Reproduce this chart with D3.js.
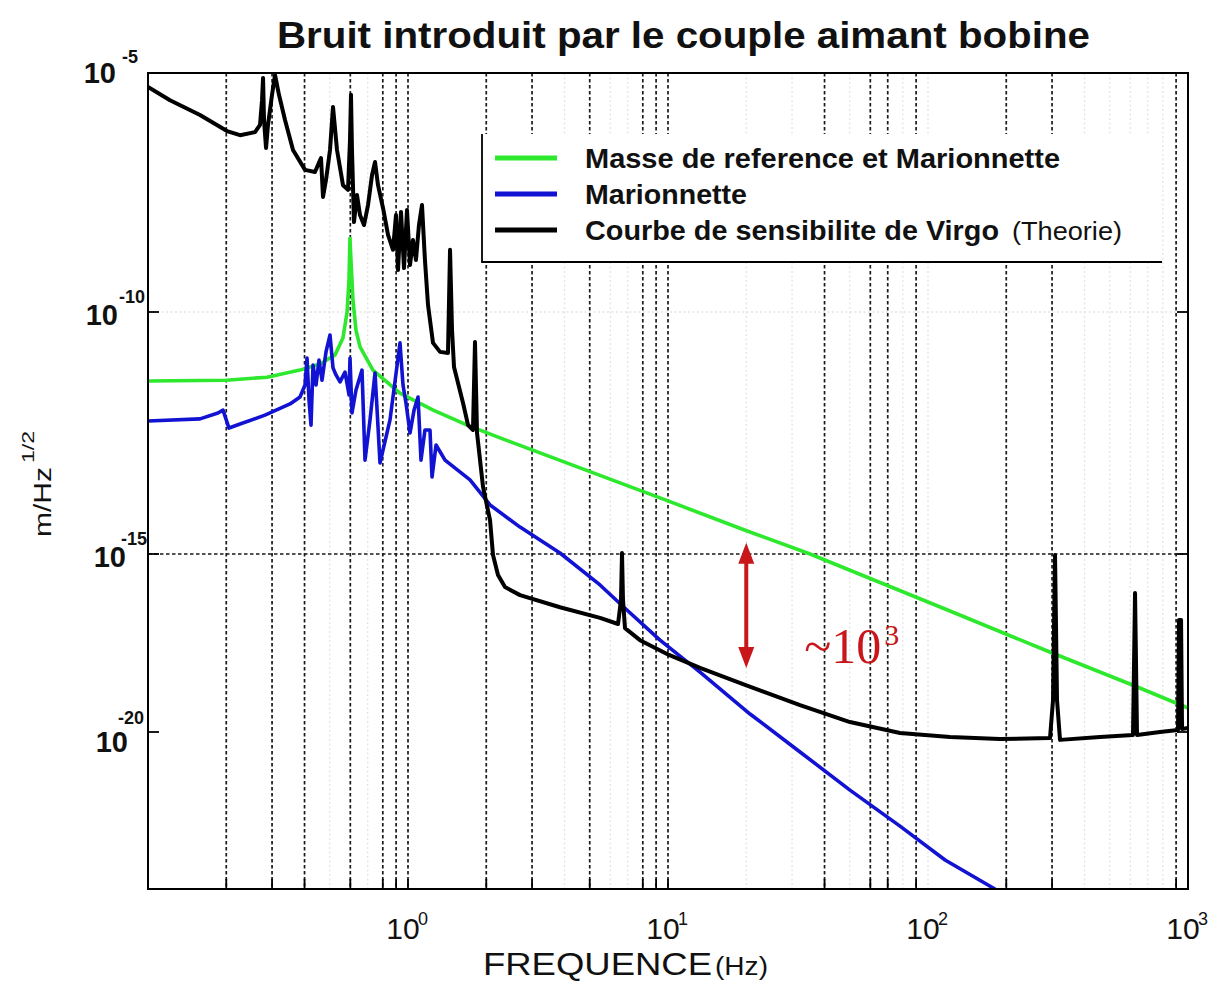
<!DOCTYPE html>
<html>
<head>
<meta charset="utf-8">
<script src="https://cdn.jsdelivr.net/npm/d3@7"></script>
<style>
  body { margin: 0; background: #fff; }
  svg { display: block; }
  .sans { font-family: "Liberation Sans", Arial, sans-serif; }
  .serif { font-family: "Liberation Serif", "Times New Roman", serif; }
</style>
</head>
<body>
<svg id="chart" width="1211" height="983"></svg>
<script>
// ---- data: [frequency (Hz), amplitude (m/Hz^1/2)] ----
const massRefMarionnette = [
  [0.1, 3.75e-12], [0.2, 3.9e-12], [0.287, 4.5e-12], [0.384, 6.3e-12], [0.459, 8.4e-12],
  [0.524, 1.3e-11], [0.562, 2.9e-11], [0.583, 1e-10], [0.593, 4.7e-10], [0.598, 3.5e-9],
  [0.604, 1.1e-9], [0.614, 1.8e-10], [0.631, 4.2e-11], [0.654, 1.9e-11], [0.733, 6.3e-12],
  [0.931, 2.1e-12], [1.25, 9.4e-13], [1.69, 4.6e-13], [2.26, 2.5e-13], [10, 1.25e-14],
  [19.8, 3.1e-15], [35.2, 1e-15], [65.4, 1.58e-16], [121.5, 2.5e-17], [294, 1.77e-18],
  [625, 1.96e-19], [1000, 4.7e-20]
];

const marionnette = [
  [0.1, 5.6e-13], [0.1585, 6.2e-13], [0.1858, 8.2e-13], [0.1943, 9.4e-13], [0.2049, 4.0e-13],
  [0.2259, 4.85e-13], [0.2818, 7.4e-13], [0.3518, 1.26e-12], [0.3843, 1.75e-12], [0.4017, 3.1e-12],
  [0.4089, 1.12e-11], [0.4162, 1.52e-12], [0.4236, 4.6e-13], [0.4312, 8.0e-12], [0.4428, 3.1e-12],
  [0.4547, 1.02e-11], [0.467, 3.9e-12], [0.4837, 1.5e-11], [0.5012, 3.35e-11], [0.5147, 7.0e-12],
  [0.5286, 5.0e-12], [0.5477, 3.6e-12], [0.5725, 5.75e-12], [0.5932, 1.93e-12], [0.5983, 1.12e-11],
  [0.6089, 8.2e-13], [0.631, 2.45e-12], [0.6654, 6.3e-12], [0.6833, 8.7e-14], [0.7144, 5.9e-13],
  [0.7467, 5.5e-12], [0.7804, 7.6e-14], [0.8527, 5.9e-13], [0.9316, 2.3e-11], [0.9567, 3.1e-12],
  [0.9824, 1.32e-12], [1.018, 3.16e-13], [1.055, 9.4e-13], [1.093, 1.75e-12], [1.122, 8.7e-14],
  [1.162, 3.65e-13], [1.215, 3.65e-13], [1.237, 3.9e-14], [1.282, 1.79e-13], [1.388, 8.7e-14],
  [1.732, 3.4e-14], [2.068, 1.03e-14], [2.697, 3.6e-15], [3.842, 1.05e-15], [5.476, 1.35e-16],
  [6.833, 3.0e-17], [9.317, 3.8e-18], [13.28, 4.8e-19], [20.68, 3.2e-20], [32.2, 3.1e-21],
  [50.1, 3.3e-22], [78.04, 4.0e-23], [116.3, 5.5e-24], [180.9, 1e-24]
];

const virgoSensitivity = [
  [0.1, 5.1e-6], [0.1215, 2.7e-6], [0.1585, 1.32e-6], [0.2013, 6.1e-7], [0.2259, 5.0e-7],
  [0.258, 5.8e-7], [0.2697, 8.2e-7], [0.2745, 2.7e-6], [0.277, 7.9e-6], [0.2794, 1.04e-6],
  [0.2844, 2.7e-7], [0.2894, 8.2e-7], [0.2999, 3.5e-6], [0.308, 9.1e-6], [0.319, 3.5e-6],
  [0.3365, 1.04e-6], [0.3612, 2.45e-7], [0.4017, 9.4e-8], [0.4388, 8.5e-8], [0.4587, 1.5e-7],
  [0.4628, 1.67e-7], [0.4711, 2.55e-8], [0.4837, 5.8e-8], [0.5012, 2.45e-7], [0.5147, 1.95e-6],
  [0.5333, 2.45e-7], [0.5623, 4.5e-8], [0.5878, 3.6e-8], [0.5983, 4.0e-7], [0.6036, 3.5e-6],
  [0.6089, 2.45e-7], [0.6198, 7.6e-9], [0.6365, 2.8e-8], [0.6537, 1.07e-8], [0.6773, 6.6e-9],
  [0.7018, 1.73e-8], [0.7271, 7.3e-8], [0.7467, 1.37e-7], [0.7668, 4.5e-8], [0.8015, 1.5e-8],
  [0.8379, 4.1e-9], [0.8757, 2.0e-9], [0.8993, 1.07e-8], [0.9154, 7.6e-10], [0.9399, 1.24e-8],
  [0.9652, 8.3e-10], [0.9912, 1.36e-8], [1.018, 9.6e-10], [1.045, 3.2e-9], [1.073, 1.22e-9],
  [1.102, 6.6e-9], [1.132, 1.73e-8], [1.162, 1.22e-9], [1.194, 1.4e-10], [1.248, 2.3e-11],
  [1.328, 1.5e-11], [1.425, 1.42e-11], [1.451, 2.0e-9], [1.477, 4.2e-11], [1.503, 7.3e-12],
  [1.628, 1.32e-12], [1.702, 4.6e-13], [1.778, 3.65e-13], [1.81, 2.4e-11], [1.843, 3.16e-13],
  [1.944, 2.4e-14], [2.068, 5.0e-15], [2.123, 9.4e-16], [2.219, 2.57e-16], [2.361, 1.18e-16],
  [2.697, 7.0e-17], [3.842, 3.2e-17], [5.476, 1.6e-17], [6.423, 1.08e-17], [6.595, 5.1e-17],
  [6.654, 1.05e-15], [6.713, 5.1e-17], [6.833, 8.3e-18], [7.804, 3.8e-18], [10.09, 1.46e-18],
  [13.28, 6.3e-19], [19.78, 2.1e-19], [32.2, 5.7e-20], [50.1, 1.9e-20], [78.04, 9.4e-21],
  [121.5, 7.5e-21], [189.2, 6.6e-21], [294.6, 7.0e-21], [302.6, 7.9e-20], [308, 9.4e-16],
  [313.5, 7.9e-20], [321.9, 6.3e-21], [458.6, 7.5e-21], [614.4, 8.4e-21], [625.6, 8.0e-17],
  [636.7, 8.4e-21], [780.4, 1.0e-20], [915.4, 1.14e-20], [923.6, 1.4e-17], [940.3, 1.4e-17],
  [948.6, 1.21e-20], [1000, 1.29e-20]
];

const seriesNames = [
  "Masse de reference et Marionnette",
  "Marionnette",
  "Courbe de sensibilite de Virgo"
];
const seriesColors = ["#2ee82e", "#1212d2", "#000000"];

const xTickValues = [1, 10, 100, 1000];
const xTickExponents = ["0", "1", "2", "3"];
const yTickValues = [1e-5, 1e-10, 1e-15, 1e-20];
const yTickExponents = ["-5", "-10", "-15", "-20"];

// dotted grid: darker lines and faint lines
const gridStrongX = [0.2, 0.3, 0.4, 0.6, 0.8, 0.9, 1, 2, 3, 5, 8, 9, 10, 40, 60, 70, 90, 200, 300, 900];
const gridFaintX = [0.5, 0.7, 4, 6, 7, 20, 30, 50, 80, 100, 400, 500, 600, 700, 800];
const gridStrongY = [1e-15];
const gridFaintY = [1e-10];

// annotation: distance between the reference-mass curve and the Virgo curve
const gapFreq = 20;
const gapTop = 1.7e-15;
const gapBottom = 6.3e-19;

// ---- layout ----
const svg = d3.select("#chart");
const frame = { left: 148, right: 1188, top: 73, bottom: 889 };

const x = d3.scaleLog().domain([0.1, 1000]).range([frame.left, frame.right]);
const y = d3.scaleLog()
  .domain([1e-24, 1e-20, 1e-15, 1e-10, 1e-5])
  .range([889, 732, 554, 312, 73]);

svg.append("defs").append("clipPath").attr("id", "plot-clip")
  .append("rect")
  .attr("x", frame.left).attr("y", frame.top)
  .attr("width", frame.right - frame.left).attr("height", frame.bottom - frame.top);

// ---- grid ----
const grid = svg.append("g");
grid.selectAll(".fx").data(gridFaintX).join("line")
  .attr("x1", d => x(d)).attr("x2", d => x(d))
  .attr("y1", frame.top).attr("y2", frame.bottom)
  .attr("stroke", "#e4e4e4").attr("stroke-width", 1.3).attr("stroke-dasharray", "2,2.5");
grid.selectAll(".fy").data(gridFaintY).join("line")
  .attr("x1", frame.left).attr("x2", frame.right)
  .attr("y1", d => y(d)).attr("y2", d => y(d))
  .attr("stroke", "#e4e4e4").attr("stroke-width", 1.3).attr("stroke-dasharray", "2,2.5");
grid.selectAll(".sx").data(gridStrongX).join("line")
  .attr("x1", d => x(d)).attr("x2", d => x(d))
  .attr("y1", frame.top).attr("y2", frame.bottom)
  .attr("stroke", "#1a1a1a").attr("stroke-width", 1.7).attr("stroke-dasharray", "3.5,2.5");
grid.selectAll(".sy").data(gridStrongY).join("line")
  .attr("x1", frame.left).attr("x2", frame.right)
  .attr("y1", d => y(d)).attr("y2", d => y(d))
  .attr("stroke", "#1a1a1a").attr("stroke-width", 1.7).attr("stroke-dasharray", "3.5,2.5");

// ---- ticks (inward) ----
const ticks = svg.append("g").attr("stroke", "#000").attr("stroke-width", 1.8);
ticks.selectAll(".tb").data(gridStrongX).join("line")
  .attr("x1", d => x(d)).attr("x2", d => x(d))
  .attr("y1", frame.bottom).attr("y2", frame.bottom - 10);
ticks.selectAll(".tl").data(yTickValues).join("line")
  .attr("x1", frame.left).attr("x2", frame.left + 11)
  .attr("y1", d => y(d)).attr("y2", d => y(d));
ticks.selectAll(".tr").data(yTickValues).join("line")
  .attr("x1", frame.right).attr("x2", frame.right - 11)
  .attr("y1", d => y(d)).attr("y2", d => y(d));

// ---- curves ----
const line = d3.line().x(d => x(d[0])).y(d => y(d[1]));
const curves = svg.append("g").attr("clip-path", "url(#plot-clip)")
  .attr("fill", "none").attr("stroke-linejoin", "round").attr("stroke-linecap", "round");
[massRefMarionnette, marionnette, virgoSensitivity].forEach((s, i) => {
  curves.append("path").datum(s)
    .attr("d", line)
    .attr("stroke", seriesColors[i])
    .attr("stroke-width", i === 2 ? 4 : 3.6);
});

// ---- frame ----
svg.append("rect")
  .attr("x", frame.left).attr("y", frame.top)
  .attr("width", frame.right - frame.left).attr("height", frame.bottom - frame.top)
  .attr("fill", "none").attr("stroke", "#000").attr("stroke-width", 2);

// ---- legend ----
const legend = svg.append("g").attr("class", "sans");
legend.append("rect").attr("x", 482).attr("y", 134).attr("width", 680).attr("height", 128).attr("fill", "#fff");
legend.append("path").attr("d", "M482,134V262H1162").attr("fill", "none")
  .attr("stroke", "#000").attr("stroke-width", 1.8);
const rows = legend.selectAll(".row").data(seriesNames).join("g")
  .attr("transform", (d, i) => `translate(0,${158 + i * 36})`);
rows.append("line").attr("x1", 495).attr("x2", 557).attr("y1", 0).attr("y2", 0)
  .attr("stroke", (d, i) => seriesColors[i]).attr("stroke-width", 5);
const legendWidths = [475, 162, 414];
rows.append("text").attr("x", 585).attr("y", 10)
  .attr("font-size", 28).attr("font-weight", "bold").attr("fill", "#111")
  .attr("textLength", (d, i) => legendWidths[i]).attr("lengthAdjust", "spacingAndGlyphs")
  .text(d => d);
legend.append("text").attr("x", 1012).attr("y", 240)
  .attr("font-size", 25).attr("fill", "#111")
  .attr("textLength", 110).attr("lengthAdjust", "spacingAndGlyphs")
  .text("(Theorie)");

// ---- axis labels ----
const xLab = svg.append("g").attr("class", "sans").attr("fill", "#111");
xTickValues.forEach((v, i) => {
  xLab.append("text").attr("x", x(v) - 5).attr("y", 939)
    .attr("text-anchor", "middle").attr("font-size", 30).text("10");
  xLab.append("text").attr("x", x(v) + 10).attr("y", 925)
    .attr("font-size", 18).text(xTickExponents[i]);
});

const yLabelLayout = [
  { base: 116, sup: 138, dyB: 10, dyS: -10 },
  { base: 118, sup: 145, dyB: 13, dyS: -9 },
  { base: 126, sup: 147, dyB: 13, dyS: -9 },
  { base: 128, sup: 144, dyB: 20, dyS: -8 }
];
const yLab = svg.append("g").attr("class", "sans").attr("fill", "#111").attr("font-weight", "bold");
yTickValues.forEach((v, i) => {
  const L = yLabelLayout[i];
  yLab.append("text").attr("x", L.base).attr("y", y(v) + L.dyB)
    .attr("text-anchor", "end").attr("font-size", 29).text("10");
  yLab.append("text").attr("x", L.sup).attr("y", y(v) + L.dyS)
    .attr("text-anchor", "end").attr("font-size", 18).text(yTickExponents[i]);
});

svg.append("text").attr("class", "sans").attr("x", 483).attr("y", 975)
  .attr("font-size", 32).attr("fill", "#111")
  .attr("textLength", 229).attr("lengthAdjust", "spacingAndGlyphs")
  .text("FREQUENCE");
svg.append("text").attr("class", "sans").attr("x", 715).attr("y", 975)
  .attr("font-size", 26).attr("fill", "#111")
  .attr("textLength", 53).attr("lengthAdjust", "spacingAndGlyphs")
  .text("(Hz)");

const yTitle = svg.append("g").attr("class", "sans")
  .attr("transform", "translate(51,537) rotate(-90)").attr("fill", "#111");
yTitle.append("text").attr("x", 0).attr("y", 0).attr("font-size", 23)
  .attr("textLength", 70).attr("lengthAdjust", "spacingAndGlyphs").text("m/Hz");
yTitle.append("text").attr("x", 74).attr("y", -17).attr("font-size", 16)
  .attr("textLength", 32).attr("lengthAdjust", "spacingAndGlyphs").text("1/2");

// ---- title ----
svg.append("text").attr("class", "sans").attr("x", 277).attr("y", 48)
  .attr("font-size", 37).attr("font-weight", "bold").attr("fill", "#111")
  .attr("textLength", 813).attr("lengthAdjust", "spacingAndGlyphs")
  .text("Bruit introduit par le couple aimant bobine");

// ---- gap annotation ----
const red = "#c8161a";
const ax = x(gapFreq), ay1 = y(gapTop), ay2 = y(gapBottom);
const ann = svg.append("g");
ann.append("line").attr("x1", ax).attr("x2", ax).attr("y1", ay1 + 14).attr("y2", ay2 - 14)
  .attr("stroke", red).attr("stroke-width", 4);
ann.append("path").attr("d", `M${ax},${ay1}L${ax - 8},${ay1 + 21}L${ax + 8},${ay1 + 21}Z`).attr("fill", red);
ann.append("path").attr("d", `M${ax},${ay2}L${ax - 8},${ay2 - 21}L${ax + 8},${ay2 - 21}Z`).attr("fill", red);
ann.append("text").attr("class", "serif").attr("x", ax + 58).attr("y", ay2 - 5)
  .attr("font-size", 50).attr("fill", red).text("~10");
ann.append("text").attr("class", "serif").attr("x", ax + 138).attr("y", ay2 - 23)
  .attr("font-size", 30).attr("fill", red).text("3");
</script>
</body>
</html>
